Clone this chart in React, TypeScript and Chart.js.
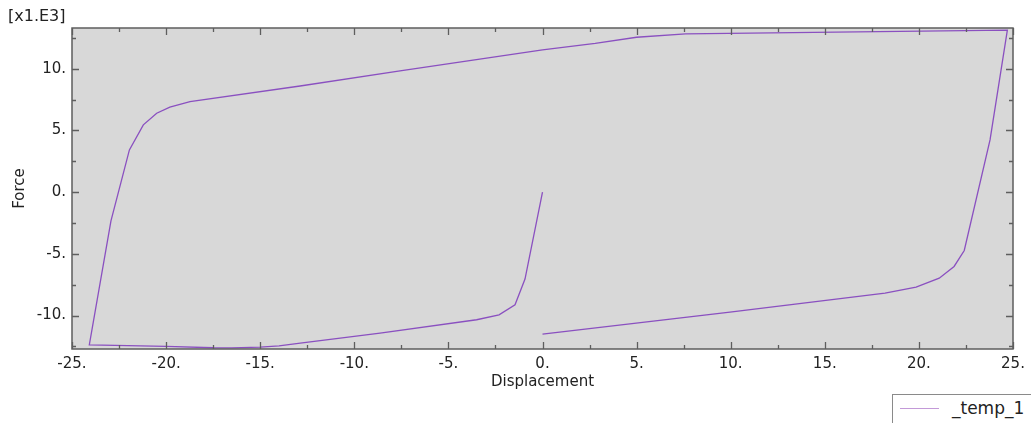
import React, { useEffect, useRef } from "react";
import { Chart, registerables } from "chart.js";

Chart.register(...registerables);

// Displacement (x) and Force (y, in N) along the hysteresis loop
const displacement = [
  0, -0.93, -1.46, -2.31, -3.5, -8.63, -12.87, -14.0, -15.0, -16.5, -17.5, -20.0, -24.08,
  -22.93, -21.95, -21.21, -20.5, -19.8, -18.73, -12.88, -7.57, 0, 2.8, 5.0, 7.6, 24.7,
  23.78, 22.41, 21.87, 21.08, 19.85, 18.2, 9.96, 0,
];
const force = [
  0, -7040, -9130, -9940, -10340, -11420, -12230, -12450, -12550, -12620, -12610, -12500, -12370,
  -2320, 3420, 5450, 6390, 6880, 7340, 8600, 9820, 11520, 12050, 12550, 12820, 13130,
  4230, -4730, -6020, -6970, -7690, -8180, -9720, -11500,
];

const xMajorTicks = [-25, -20, -15, -10, -5, 0, 5, 10, 15, 20, 25];
const xMinorTicks = [-22.5, -17.5, -12.5, -7.5, -2.5, 2.5, 7.5, 12.5, 17.5, 22.5];
const yMajorTicks = [-10000, -5000, 0, 5000, 10000];
const yMinorTicks = [-12500, -7500, -2500, 2500, 7500, 12500];

const xRange = [-25, 25];
const yRange = [-12710, 13300];

const seriesName = "_temp_1";
const xTitle = "Displacement";
const yTitle = "Force";
const yMultiplierLabel = "[x1.E3]";

const FONT = "'DejaVu Sans', Verdana, sans-serif";
const LINE_COLOR = "#8a50c0";
const LEGEND_LINE_COLOR = "#c39ad8";
const PLOT_BG = "#d8d8d8";
const FRAME_COLOR = "#5e5e5e";
const TEXT_COLOR = "#222222";

const framePlugin = {
  id: "framePlugin",
  beforeDraw(chart: any) {
    const { ctx, chartArea } = chart;
    ctx.save();
    ctx.fillStyle = PLOT_BG;
    ctx.fillRect(chartArea.left, chartArea.top, chartArea.right - chartArea.left, chartArea.bottom - chartArea.top);
    ctx.restore();
  },
  afterDraw(chart: any) {
    const { ctx, chartArea } = chart;
    const xs = chart.scales.x;
    const ys = chart.scales.y;
    const { left, right, top, bottom } = chartArea;
    ctx.save();
    ctx.strokeStyle = FRAME_COLOR;
    ctx.lineWidth = 1.5;
    ctx.strokeRect(left, top, right - left, bottom - top);
    ctx.lineWidth = 1.3;
    const major = 7;
    const minor = 4;
    const drawX = (v: number, len: number) => {
      const px = Math.round(xs.getPixelForValue(v)) + 0.5;
      ctx.beginPath();
      ctx.moveTo(px, bottom);
      ctx.lineTo(px, bottom - len);
      ctx.moveTo(px, top);
      ctx.lineTo(px, top + len);
      ctx.stroke();
    };
    const drawY = (v: number, len: number) => {
      const py = Math.round(ys.getPixelForValue(v)) + 0.5;
      ctx.beginPath();
      ctx.moveTo(left, py);
      ctx.lineTo(left + len, py);
      ctx.moveTo(right, py);
      ctx.lineTo(right - len, py);
      ctx.stroke();
    };
    xMajorTicks.forEach((v) => drawX(v, major));
    xMinorTicks.forEach((v) => drawX(v, minor));
    yMajorTicks.forEach((v) => drawY(v, major));
    yMinorTicks.forEach((v) => drawY(v, minor));

    // multiplier label
    ctx.fillStyle = TEXT_COLOR;
    ctx.font = `16px ${FONT}`;
    ctx.textAlign = "left";
    ctx.textBaseline = "middle";
    ctx.fillText(yMultiplierLabel, 8, 17);
    ctx.restore();
  },
};

export default function App() {
  const canvasRef = useRef<HTMLCanvasElement | null>(null);

  useEffect(() => {
    if (!canvasRef.current) return;
    const points = displacement.map((x, i) => ({ x, y: force[i] }));
    const chart = new Chart(canvasRef.current, {
      type: "scatter",
      data: {
        datasets: [
          {
            label: seriesName,
            data: points,
            showLine: true,
            borderColor: LINE_COLOR,
            backgroundColor: LINE_COLOR,
            borderWidth: 1.3,
            pointRadius: 0,
            pointHoverRadius: 0,
            tension: 0,
          },
        ],
      },
      options: {
        responsive: false,
        animation: false,
        events: [],
        layout: { padding: { top: 28, right: 18, left: 11, bottom: 32 } },
        plugins: {
          legend: { display: false },
          tooltip: { enabled: false },
        },
        scales: {
          x: {
            type: "linear",
            min: xRange[0],
            max: xRange[1],
            grid: { display: false, drawTicks: false },
            border: { display: false },
            afterBuildTicks: (scale: any) => {
              scale.ticks = xMajorTicks.map((v) => ({ value: v }));
            },
            afterFit: (scale: any) => {
              scale.height = 42;
            },
            ticks: {
              padding: 6,
              maxRotation: 0,
              autoSkip: false,
              color: TEXT_COLOR,
              font: { family: FONT, size: 15 },
              callback: (v: any) => `${Number(v)}.`,
            },
            title: {
              display: true,
              text: xTitle,
              color: TEXT_COLOR,
              font: { family: FONT, size: 15 },
              padding: { top: 4, bottom: 0 },
            },
          },
          y: {
            type: "linear",
            min: yRange[0],
            max: yRange[1],
            grid: { display: false, drawTicks: false },
            border: { display: false },
            afterBuildTicks: (scale: any) => {
              scale.ticks = yMajorTicks.map((v) => ({ value: v }));
            },
            afterFit: (scale: any) => {
              scale.width = 61;
            },
            ticks: {
              padding: 6,
              autoSkip: false,
              color: TEXT_COLOR,
              font: { family: FONT, size: 15 },
              callback: (v: any) => `${Number(v) / 1000}.`,
            },
            title: {
              display: true,
              text: yTitle,
              color: TEXT_COLOR,
              font: { family: FONT, size: 15 },
              padding: { top: 0, bottom: 0 },
            },
          },
        },
      },
      plugins: [framePlugin],
    });
    return () => chart.destroy();
  }, []);

  return (
    <div
      style={{
        position: "fixed",
        left: 0,
        top: 0,
        width: 1031,
        height: 423,
        overflow: "hidden",
        background: "#ffffff",
      }}
    >
      <canvas ref={canvasRef} width={1031} height={423} style={{ display: "block" }} />
      <div
        style={{
          position: "absolute",
          left: 892,
          top: 394,
          width: 170,
          height: 50,
          border: "1px solid #8a8a8a",
          background: "#ffffff",
          boxSizing: "border-box",
        }}
      >
        <div
          style={{
            position: "absolute",
            left: 7,
            top: 13,
            width: 39,
            height: 0,
            borderTop: `1.5px solid ${LEGEND_LINE_COLOR}`,
          }}
        />
        <div
          style={{
            position: "absolute",
            left: 59,
            top: 3,
            fontFamily: FONT,
            fontSize: 17,
            lineHeight: "20px",
            color: TEXT_COLOR,
            whiteSpace: "nowrap",
          }}
        >
          {seriesName}
        </div>
      </div>
    </div>
  );
}
